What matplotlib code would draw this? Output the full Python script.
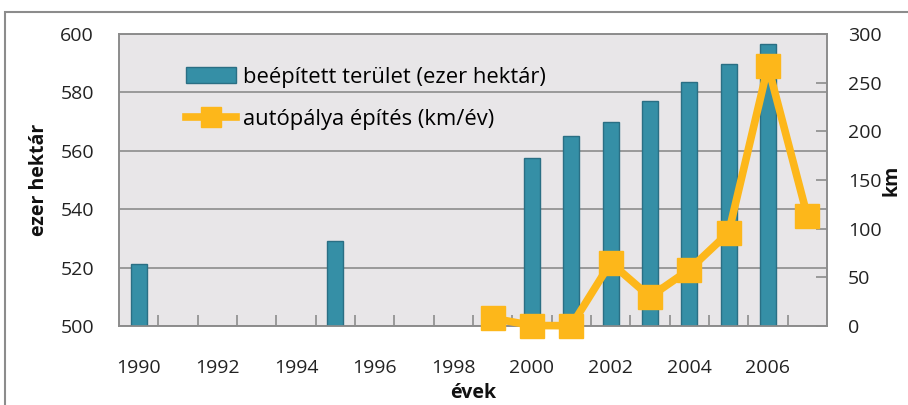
import matplotlib
matplotlib.use("Agg")
import matplotlib.pyplot as plt
from matplotlib.patches import Rectangle
from matplotlib.lines import Line2D
from matplotlib.ticker import FixedLocator, NullFormatter

plt.rcParams['font.family'] = ['Open Sans', 'DejaVu Sans']

years = list(range(1990, 2008))
bar_years = [1990, 1995, 2000, 2001, 2002, 2003, 2004, 2005, 2006]
bar_values = [521.1, 529.2, 557.4, 565.2, 570.0, 577.0, 583.5, 589.7, 596.7]
line_years = [1999, 2000, 2001, 2002, 2003, 2004, 2005, 2006, 2007]
line_values = [8, 0.5, 0.3, 65, 30, 58, 96, 267, 113]
xtick_labels = ['1990', '1992', '1994', '1996', '1998', '2000', '2002', '2004', '2006']

bar_label = 'beépített terület (ezer hektár)'
line_label = 'autópálya építés (km/év)'

teal = '#358fa6'
teal_edge = '#2a6f84'
orange = '#fdb71a'
grid_gray = '#8c8c8c'
txt = '#222222'

W, H = 908, 405
fig = plt.figure(figsize=(W / 100, H / 100), dpi=100)
ax = fig.add_axes([119 / W, (H - 326) / H, (827 - 119) / W, (326 - 34) / H])
ax.set_facecolor('#e8e6e8')

pos = {y: i for i, y in enumerate(years)}
bx = [pos[y] for y in bar_years]
ax.bar(bx, [v - 500 for v in bar_values], bottom=500, width=0.41,
       color=teal, edgecolor=teal_edge, linewidth=1.0, zorder=3)

ax.set_xlim(-0.5, len(years) - 0.5)
ax.set_ylim(500, 600)
ax.set_yticks([500, 520, 540, 560, 580, 600])
ax.yaxis.grid(True, color=grid_gray, linewidth=1.2, zorder=1)
ax.set_axisbelow(True)
ax.tick_params(axis='y', length=0, labelsize=14, pad=18, colors=txt)

major = [pos[int(l)] for l in xtick_labels]
ax.set_xticks(major)
ax.set_xticklabels(xtick_labels)
ax.tick_params(axis='x', which='major', length=0, labelsize=14, pad=24, colors=txt)
ax.xaxis.set_minor_locator(FixedLocator([i + 0.5 for i in range(len(years) - 1)]))
ax.xaxis.set_minor_formatter(NullFormatter())
ax.tick_params(axis='x', which='minor', direction='in', length=8, width=1.2, color=grid_gray)

for s in ax.spines.values():
    s.set_color(grid_gray)
    s.set_linewidth(1.2)

ax.set_ylabel('ezer hektár', fontsize=14, fontweight='bold', labelpad=8, color='#111111')
ax.set_xlabel('évek', fontsize=14, fontweight='bold', labelpad=4, color='#111111')

ax2 = ax.twinx()
lx = [pos[y] for y in line_years]
ax2.plot(lx, line_values, color=orange, linewidth=5.5, marker='s', markersize=17,
         markerfacecolor=orange, markeredgecolor=orange, zorder=5, clip_on=False)
ax2.set_ylim(0, 300)
ax2.set_yticks([0, 50, 100, 150, 200, 250, 300])
ax2.tick_params(axis='y', direction='in', length=8, width=1.2, color=grid_gray,
                labelsize=14, pad=15, labelcolor=txt)
for s in ax2.spines.values():
    s.set_color(grid_gray)
    s.set_linewidth(1.2)
ax2.set_ylabel('km', fontsize=14, fontweight='bold', labelpad=0, color='#111111')

handles = [Rectangle((0, 0), 1, 1, facecolor=teal, edgecolor=teal_edge, linewidth=1.0),
           Line2D([0], [0], color=orange, linewidth=5.5, marker='s', markersize=14,
                  markerfacecolor=orange, markeredgecolor=orange)]
ax2.legend(handles, [bar_label, line_label], loc='upper left',
           bbox_to_anchor=(166 / W, (H - 47) / H), bbox_transform=fig.transFigure,
           frameon=False, prop={'size': 15.8}, handlelength=2.3, handleheight=0.7,
           handletextpad=0.3, labelspacing=0.95, numpoints=1)

fig.add_artist(Rectangle((5 / W, -0.1), 1.2, (H - 12) / H + 0.1, transform=fig.transFigure,
                         fill=False, edgecolor='#8c8c8c', linewidth=1.5, clip_on=False))

fig.savefig('out.png', dpi=100)
